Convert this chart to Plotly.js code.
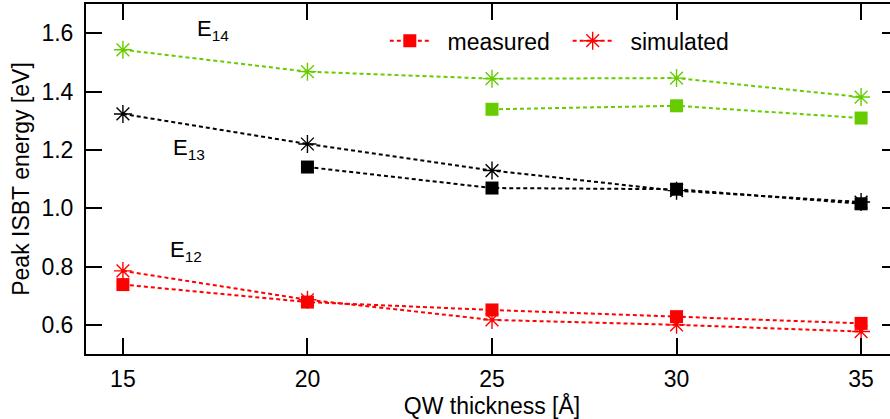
<!DOCTYPE html>
<html>
<head>
<meta charset="utf-8">
<script src="https://cdn.plot.ly/plotly-3.0.1.min.js"></script>
<style>
html, body { margin: 0; padding: 0; overflow: hidden; background: #fff; }
#chart { width: 898px; height: 419px; }
</style>
</head>
<body>
<div id="chart"></div>
<script>
// Data
const thickness = [15, 20, 25, 30, 35];

const e14Measured_x = [25, 30, 35];
const e14Measured_y = [1.339, 1.351, 1.309];
const e14Simulated_y = [1.543, 1.468, 1.444, 1.446, 1.381];

const e13Measured_x = [20, 25, 30, 35];
const e13Measured_y = [1.141, 1.069, 1.065, 1.015];
const e13Simulated_y = [1.323, 1.220, 1.129, 1.060, 1.021];

const e12Measured_y = [0.738, 0.678, 0.651, 0.628, 0.605];
const e12Simulated_y = [0.785, 0.686, 0.617, 0.600, 0.577];

const seriesNames = ["measured", "simulated"];
const labels = ["E<sub>14</sub>", "E<sub>13</sub>", "E<sub>12</sub>"];
const labelX = [16.95, 16.3, 16.22];
const labelY = [1.611, 1.203, 0.854];

const GREEN = "#66cc00", BLACK = "#000000", RED = "#ff0000";
const dash = "4px,3px";
const NB = "&nbsp;";

function measured(x, y, color, show) {
  return {
    x: x, y: y, type: "scatter", mode: "lines+markers",
    name: NB + NB + seriesNames[0] + NB + NB, showlegend: show, legendgroup: "m",
    line: { color: color, width: 2, dash: dash },
    marker: { symbol: "square", size: 13, color: color }
  };
}
function simulated(x, y, color, show) {
  return {
    x: x, y: y, type: "scatter", mode: "lines+markers",
    name: NB + NB + seriesNames[1], showlegend: show, legendgroup: "s",
    line: { color: color, width: 2, dash: dash },
    marker: { symbol: "asterisk-open", size: 15, color: color, line: { width: 1.4, color: color } }
  };
}

const traces = [
  measured(thickness, e12Measured_y, RED, true),
  simulated(thickness, e12Simulated_y, RED, true),
  measured(e13Measured_x, e13Measured_y, BLACK, false),
  simulated(thickness, e13Simulated_y, BLACK, false),
  measured(e14Measured_x, e14Measured_y, GREEN, false),
  simulated(thickness, e14Simulated_y, GREEN, false)
];

const FONT = "Liberation Sans, Arial, sans-serif";
const FS = 23;

const axisCommon = {
  showgrid: false, zeroline: false,
  showline: true, linecolor: "#000", linewidth: 2, mirror: "ticks",
  ticks: "inside", ticklen: 16, tickwidth: 2, tickcolor: "#000",
  tickfont: { family: FONT, size: FS, color: "#000" }
};

const layout = {
  width: 898, height: 419,
  margin: { l: 86, r: 0, t: 4, b: 65 },
  paper_bgcolor: "#fff", plot_bgcolor: "#fff",
  font: { family: FONT, color: "#000" },
  xaxis: Object.assign({}, axisCommon, {
    range: [14, 36], tickvals: thickness, ticktext: thickness.map(String),
    ticklabelstandoff: 3,
    title: { text: "QW thickness [Å]", font: { family: FONT, size: FS, color: "#000" }, standoff: 0 }
  }),
  yaxis: Object.assign({}, axisCommon, {
    range: [0.5, 1.7], tickvals: [0.6, 0.8, 1.0, 1.2, 1.4, 1.6],
    ticktext: ["0.6", "0.8", "1.0", "1.2", "1.4", "1.6"],
    ticklabelstandoff: 6,
    title: { text: "Peak ISBT energy [eV]", font: { family: FONT, size: FS, color: "#000" }, standoff: 5 }
  }),
  legend: {
    orientation: "h", x: 0.368, xanchor: "left", y: 0.895, yanchor: "middle",
    font: { family: FONT, size: FS, color: "#000" },
    bgcolor: "rgba(0,0,0,0)", tracegroupgap: 0, itemwidth: 40
  },
  annotations: labels.map((t, i) => ({
    x: labelX[i], y: labelY[i], xref: "x", yref: "y",
    text: t, showarrow: false, xanchor: "left", yanchor: "middle",
    font: { family: FONT, size: 22, color: "#000" }
  }))
};

Plotly.newPlot("chart", traces, layout, { displayModeBar: false, staticPlot: true });
</script>
</body>
</html>
